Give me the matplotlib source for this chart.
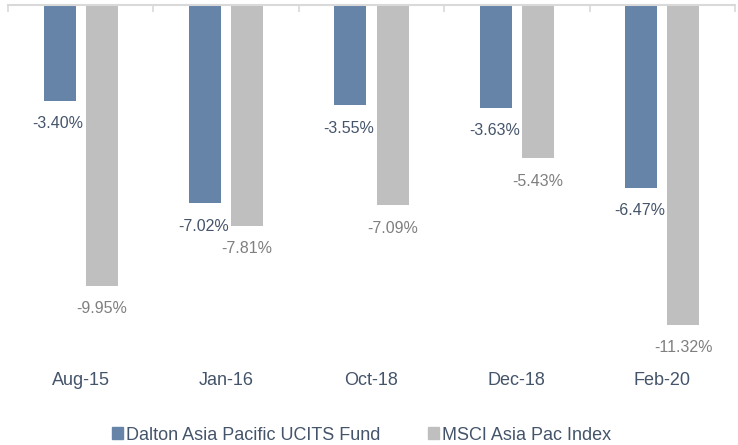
import matplotlib.pyplot as plt
import numpy as np
from matplotlib.patches import Patch

# -----------------------------
# Data
# -----------------------------
periods = ["Aug-15", "Jan-16", "Oct-18", "Dec-18", "Feb-20"]
fund = [-3.40, -7.02, -3.55, -3.63, -6.47]
msci = [-9.95, -7.81, -7.09, -5.43, -11.32]
fund_name = "Dalton Asia Pacific UCITS Fund"
msci_name = "MSCI Asia Pac Index"

blue = "#6584A8"
grey = "#BFBFBF"
text_blue = "#44546A"
text_grey = "#7F7F7F"

plt.rcParams["font.family"] = ["Liberation Sans", "DejaVu Sans"]

fig = plt.figure(figsize=(7.38, 4.45), dpi=100)
ax = fig.add_axes([8 / 738, 1 - 358 / 445, 727 / 738, 353 / 445])

x = np.arange(len(periods))
w = 0.22
off = 0.145

ax.bar(x - off, fund, width=w, color=blue)
ax.bar(x + off, msci, width=w, color=grey)

# value labels below bar ends
for i in range(len(periods)):
    ax.annotate(f"{fund[i]:.2f}%", (x[i] - off, fund[i]), xytext=(-1, -16.5),
                textcoords="offset points", ha="center", va="center",
                fontsize=11.5, color=text_blue)
    ax.annotate(f"{msci[i]:.2f}%", (x[i] + off, msci[i]), xytext=(0, -16.5),
                textcoords="offset points", ha="center", va="center",
                fontsize=11.5, color=text_grey)

ax.set_xlim(-0.5, len(periods) - 0.5)
ax.set_ylim(-12.5, 0)

for s in ["left", "right", "bottom"]:
    ax.spines[s].set_visible(False)
ax.spines["top"].set_color("#D9D9D9")
ax.spines["top"].set_linewidth(1.5)
ax.set_yticks([])
ax.set_xticks(np.arange(-0.5, len(periods), 1.0))
ax.set_xticklabels([])
ax.tick_params(axis="x", bottom=False, top=True, direction="in", length=5,
               color="#D9D9D9", width=1.2)

# category labels under the plot
for i, p in enumerate(periods):
    ax.text(x[i], -0.063, p, transform=ax.get_xaxis_transform(),
            ha="center", va="center", fontsize=13, color=text_blue)

handles = [Patch(color=blue, label=fund_name), Patch(color=grey, label=msci_name)]
leg = fig.legend(handles=handles, loc="center", bbox_to_anchor=(0.49, 1 - 435 / 445),
                 ncol=2, frameon=False, fontsize=13, handlelength=0.6, handleheight=0.6,
                 handletextpad=0.2, columnspacing=2.6)
for t in leg.get_texts():
    t.set_color(text_blue)

plt.savefig("out.png", dpi=100)
